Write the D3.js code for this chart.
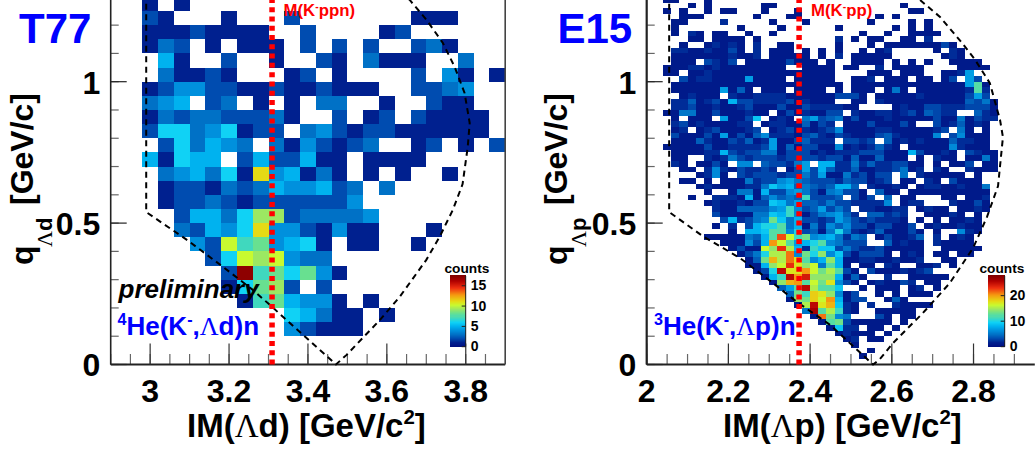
<!DOCTYPE html>
<html>
<head>
<meta charset="utf-8">
<title>T77 / E15 invariant mass vs momentum transfer</title>
<script src="https://cdn.jsdelivr.net/npm/d3@7"></script>
<style>
  html, body { margin: 0; background: #fff; }
  svg { display: block; }
  text { font-family: "Liberation Sans", Arial, sans-serif; font-weight: bold; }
</style>
</head>
<body>
<div id="chart"></div>
<script>
// counts per bin, top row first, one base-36 digit per bin, "." = empty bin
// T77: bins 0.04 x 0.05 GeV, first column starts at IM = 2.9, bottom row at q = 0
const t77Counts = [
  "..1.1....................",
  "..21...1...2.......111...",
  "..11121111..2....12......",
  "..132.1.111.2.2.2..231...",
  "...51..2..1..21.3111..3..",
  "...31121...12.1....2.41.1",
  "..124422112112111..2234..",
  "..345.23.1.1.33..1..211..",
  "..1323322231..2.12.21111.",
  "..266346122.342122111111.",
  "...263543.3142123..12.1.2",
  "..51655.2522511.1111.....",
  "...345361b45131.1.1..1...",
  "...1221323544523.3.......",
  "...1223212222224.........",
  "....2553699233334........",
  "....32546b4421411...1....",
  ".....42a784561.11..1.....",
  "......26a9a433...........",
  ".......2h786841..........",
  ".......16892.2...........",
  "........1785441.1........",
  "...........65311.1.......",
  "...........42111.........",
  "",
  ""
];

// E15: bins 0.02 x 0.02 GeV, first column starts at IM = 2.0, bottom row at q = 0
const e15Counts = [
  "..11...1.. .......... .......... ..........",
  ".....1.1.. ....11.... .......... .1........",
  "..1.1..1.1 1...1...1. .......... ..11......",
  "....111... ...1...11. ........1. 1.........",
  "...11....2 .....1...1 .......1.. ..1.1.....",
  "...1...... .1....1... ...1...... 1.1.1.....",
  "...1.21.11 ..1..1.... ......1..1 ..1111....",
  ".....11.11 11.1...... ...2.1.11. .11.2.....",
  "....1..121 21.2..11.. ...1...1.1 11111131..",
  "...2211211 31.2.111.1 .1.1..1.12 .....1.21.",
  "...1111111 2112.11111 .1.2.11111 ......121.",
  "...111.321 3.11111311 1.1..1111. 1.1.1..111 1",
  "..11122121 1111111..1 111.11..2. 1111....11 11",
  "..11.11211 1111111111 111....111 .111..1127",
  "....312211 1171111.11 111..112.1 11.11.13.7 3",
  "...1111111 1111111111 1111.11111 1111111117 c1",
  "...1111117 141.111.11 11.1.111.1 51.1111112 c2",
  "....12111. 2112222111 1113331.11 1112111113 73",
  "...2241231 8332222312 111..11.21 1111111114 351",
  "...2231121 1231113113 222211.... 1211332223 331",
  "..11551131 11211.1312 1133.21122 12314322.. 421",
  "...1.111.7 1139.121.5 7345131112 1111131151 322",
  "...2312111 122.122114 132.111311 131..31241 21",
  "...12.1231 1123.12312 1236111122 1111123.51 .1",
  "...3111317 1314622213 4213211134 211116.361 11",
  "...1114211 3241271134 222.3323.4 1212111422 11",
  "..11111311 2222371413 3116121242 1.11111621 11",
  "...1111228 3233551333 1212223331 11831121.3 211",
  "...11..212 5323332333 3233141141 11.1.211.1 151",
  "...21.1131 .66.433257 .882252422 3311.1.113 .11",
  "....11.262 132232.137 3842241122 3512.21..2 111",
  "......1261 .323332335 3711523133 .5.211111. 1",
  "....11.1.1 1152336754 3332433123 .11.21.311 1",
  "......1211 1122597845 434884.211 21.1221121 15",
  ".......1.. 1551833675 3156331.41 1.11111111 11",
  ".....1..22 218146454b 3334.313.4 .11...11.1 12",
  ".......121 1213398574 4353322226 .122...211 31",
  "........21 1444467b63 47353.2211 22.1211.11 21",
  "........31 1115598b61 356742.442 32..11121. 1",
  ".........3 82356d9583 3237532322 21.1.1.112 1",
  "........1. 2.38aac581 5264633133 113.121121 1",
  ".......... 1.889cc6a3 415a521241 1131.1..62 1",
  ".......111 11548cmgbd 6785254.13 1124.2.121",
  ".........1 11638kgc78 ac65333..4 1211.21111",
  ".......... 1311genf82 b993532231 1111..1111 1",
  ".......... .135affl6d ae69313331 .121.11.11",
  ".......... ..14djflhc 68e8112211 2112..11..",
  ".......... ..118egnhe g5c81.11.2 1..112.1..",
  ".......... ...13aphhk gdfc31.311 12123.....",
  ".......... ....18bpko eee8141..2 ..11111...",
  ".......... .....1ejkc gdh631.121 132.11....",
  ".......... ......47cp fcc9..1.11 1.12.1....",
  ".......... .......4db ihe613..1. 1.111.....",
  ".......... .......1ed igk8133..1 41........",
  ".......... ........1f phj921.2.. 21111.....",
  ".......... .........5 qcfb21..11 111.......",
  ".......... .......... 1ld65...31 .11.......",
  ".......... .......... .1cd311111 .1........",
  ".......... .......... ..1922.11. 1.........",
  ".......... .......... ...12111.1",
  ".......... .......... ....12.11.",
  ".......... .......... .....1....",
  ".......... .......... .......1..",
  ".......... .......... ......1...",
  ""
];

// kinematic limit, [IM, q] in GeV
const t77Contour = [[2.99,1.35],[2.99,0.539],[3.094,0.44],[3.185,0.345],[3.261,0.263],[3.304,0.21],[3.471,0],
  [3.498,0.034],[3.582,0.157],[3.633,0.24],[3.7,0.37],[3.734,0.452],[3.767,0.546],[3.792,0.638],[3.805,0.769],
  [3.81,0.854],[3.797,0.96],[3.772,1.052],[3.742,1.137],[3.701,1.218],[3.658,1.289],[3.62,1.34]];
const e15Contour = [[2.055,1.35],[2.055,0.539],[2.139,0.452],[2.228,0.377],[2.309,0.288],[2.367,0.222],[2.449,0.14],[2.554,0],
  [2.569,0.016],[2.603,0.076],[2.676,0.182],[2.742,0.288],[2.799,0.412],[2.833,0.522],[2.86,0.631],[2.872,0.804],
  [2.865,0.864],[2.84,0.995],[2.804,1.077],[2.772,1.137],[2.718,1.229],[2.669,1.289],[2.632,1.33]];

const t77XTicks = [3, 3.2, 3.4, 3.6, 3.8];
const e15XTicks = [2, 2.2, 2.4, 2.6, 2.8];
const t77XMinor = d3.range(0, 20).map(i => 2.9 + i * 0.05);
const e15XMinor = d3.range(0, 19).map(i => 2 + i * 0.05);
const yTicks = [0, 0.5, 1];
const yMinor = d3.range(0, 13).map(i => i * 0.1);
const t77ZTicks = [0, 5, 10, 15];
const e15ZTicks = [0, 10, 20];
const t77Threshold = 3.309; // M(K-ppn)
const e15Threshold = 2.373; // M(K-pp)

// ROOT style rainbow palette, position = fraction of z max
const palettePos = [0, .057, .115, .17, .23, .29, .345, .40, .46, .52, .575, .63, .72, .82, .92, 1];
const paletteCol = ["#000f80", "#00208f", "#004cb0", "#0070c5", "#0090dd", "#00b4f0", "#10d2f5", "#3ed8c0",
  "#68e090", "#9ee860", "#c8fa30", "#e5dc15", "#f59a10", "#f03010", "#b00000", "#800000"];
const palette = d3.scaleLinear().domain(palettePos).range(paletteCol).clamp(true);

const svg = d3.select("#chart").append("svg").attr("width", 1036).attr("height", 455);

// text made of runs, run = [string, kind]; kind: "sup", "lam" or nothing
function richText(sel, runs, size) {
  let shift = 0;
  runs.forEach(([str, kind]) => {
    const t = sel.append("tspan").text(str);
    const up = kind === "sup" ? -size * 0.38 : 0;
    t.attr("dy", up - shift);
    shift = up;
    if (kind === "sup") t.style("font-size", (size * 0.62) + "px");
    if (kind === "lam") t.style("font-family", "'Liberation Serif'").style("font-weight", "normal");
  });
}

function drawPanel(cfg) {
  const x = d3.scaleLinear().domain(cfg.xDomain).range(cfg.xRange);
  const y = d3.scaleLinear().domain([0, 1.2889]).range([364.5, 0]);
  const g = svg.append("g");
  const zMax = cfg.zMax;
  const plain = d => String(d);

  // bins
  const bins = [];
  const nRows = cfg.counts.length;
  cfg.counts.forEach((row, r) => {
    Array.from(row.replace(/ /g, "")).forEach((c, i) => {
      if (c !== ".") bins.push({i: i, k: nRows - 1 - r, n: parseInt(c, 36)});
    });
  });
  g.selectAll(".bin").data(bins).join("rect")
    .attr("class", "bin")
    .attr("x", d => x(cfg.xDomain[0] + d.i * cfg.binX))
    .attr("width", d => x(cfg.xDomain[0] + cfg.binX) - x(cfg.xDomain[0]))
    .attr("y", d => y((d.k + 1) * cfg.binY))
    .attr("height", d => y(0) - y(cfg.binY))
    .attr("fill", d => palette(d.n / zMax))
    .attr("shape-rendering", "crispEdges");

  // minor ticks first, major axes on top
  g.append("g").attr("transform", "translate(0,364.5)")
    .call(d3.axisBottom(x).tickValues(cfg.xMinor).tickSize(-10.5).tickSizeOuter(0).tickFormat("").offset(0))
    .call(a => a.select(".domain").remove())
    .selectAll("line").attr("stroke", "#666").attr("stroke-width", 1.2);
  g.append("g").attr("transform", `translate(${cfg.xRange[0]},0)`)
    .call(d3.axisLeft(y).tickValues(yMinor).tickSize(-8).tickSizeOuter(0).tickFormat("").offset(0))
    .call(a => a.select(".domain").remove())
    .selectAll("line").attr("stroke", "#666").attr("stroke-width", 1.2);

  const xAxis = g.append("g").attr("transform", "translate(0,364.5)")
    .call(d3.axisBottom(x).tickValues(cfg.xTicks).tickFormat(plain).tickSize(-21).tickSizeOuter(0).tickPadding(14.5).offset(0));
  xAxis.select(".domain").attr("stroke", "#222").attr("stroke-width", 2);
  xAxis.selectAll("line").attr("stroke", "#333").attr("stroke-width", 1.2);
  xAxis.selectAll("text").style("font-size", "32px").attr("fill", "#000");

  const yAxis = g.append("g").attr("transform", `translate(${cfg.xRange[0]},0)`)
    .call(d3.axisLeft(y).tickValues(yTicks).tickFormat(plain).tickSize(-16).tickSizeOuter(0).tickPadding(10.5).offset(0));
  yAxis.select(".domain").attr("stroke", "#222").attr("stroke-width", cfg.frame ? 1.6 : 2.2);
  yAxis.selectAll("line").attr("stroke", "#222").attr("stroke-width", 1.2);
  yAxis.selectAll("text").style("font-size", "32px").attr("dy", "0.37em").attr("fill", "#000");

  if (cfg.frame) {
    g.append("line").attr("x1", x(cfg.xDomain[1])).attr("x2", x(cfg.xDomain[1]))
      .attr("y1", 0).attr("y2", 364.5).attr("stroke", "#444").attr("stroke-width", 1.6);
  }

  // kinematic limit
  g.append("path").datum(cfg.contour)
    .attr("d", d3.line().x(d => x(d[0])).y(d => y(d[1])))
    .attr("fill", "none").attr("stroke", "#000").attr("stroke-width", 2)
    .attr("stroke-dasharray", "6 4.5");

  // threshold mass
  g.append("line").attr("x1", x(cfg.threshold)).attr("x2", x(cfg.threshold))
    .attr("y1", 364.5).attr("y2", 0)
    .attr("stroke", "#ff0000").attr("stroke-width", 5.5).attr("stroke-dasharray", "5 4.27");
  richText(g.append("text").attr("x", cfg.massX).attr("y", 16).attr("fill", "#ff0000").style("font-size", "16.8px"),
    cfg.massLabel, 16.8);

  // panel name
  g.append("text").attr("x", cfg.nameX).attr("y", 43).attr("fill", "#0000ff").style("font-size", "42px").text(cfg.name);

  // reaction
  richText(g.append("text").attr("x", cfg.reactionX).attr("y", 335).attr("fill", "#0000ff").style("font-size", "26px"),
    cfg.reaction, 26);

  // axis titles
  richText(g.append("text").attr("x", cfg.xTitleX).attr("y", 436.5).attr("fill", "#000").style("font-size", "33px"),
    cfg.xTitle, 33);
  g.append("text").attr("transform", `translate(${cfg.yTitleX},265) rotate(-90)`).style("font-size", "32px").text("q");
  richText(g.append("text").attr("transform", `translate(${cfg.yTitleX + 18.5},247) rotate(-90)`).style("font-size", "22px"),
    cfg.ySub, 22);
  g.append("text").attr("transform", `translate(${cfg.yTitleX},205) rotate(-90)`).style("font-size", "32px").text("[GeV/c]");

  // colour bar
  const z = d3.scaleLinear().domain([0, zMax]).range([346.7, 276]);
  const steps = d3.range(0, 71).map(i => i / 70 * zMax);
  const bar = g.append("g");
  bar.selectAll("rect").data(steps).join("rect")
    .attr("x", cfg.barX).attr("width", cfg.barW)
    .attr("y", d => z(d) - 1.5).attr("height", 1.6)
    .attr("fill", d => palette(d / zMax))
    .attr("shape-rendering", "crispEdges");
  const zAxis = g.append("g").attr("transform", `translate(${cfg.barX + cfg.barW},0)`)
    .call(d3.axisRight(z).tickValues(cfg.zTicks).tickFormat(plain).tickSize(-4).tickSizeOuter(0).tickPadding(5).offset(0));
  zAxis.select(".domain").attr("stroke", "#222").attr("stroke-width", 1);
  zAxis.selectAll("line").attr("stroke", "#222");
  zAxis.selectAll("text").style("font-size", "14px").attr("fill", "#000");
  g.append("text").attr("x", cfg.countsX).attr("y", 272.7).style("font-size", "13.7px").text("counts");
}

drawPanel({
  name: "T77", nameX: 19,
  counts: t77Counts, binX: 0.04, binY: 0.05, zMax: 17.4,
  xDomain: [2.9, 3.9], xRange: [110.7, 505.2], frame: true,
  xTicks: t77XTicks, xMinor: t77XMinor, contour: t77Contour,
  threshold: t77Threshold, massX: 283.5, massLabel: [["M(K"], ["-", "sup"], ["ppn)"]],
  reactionX: 117.5, reaction: [["4", "sup"], ["He(K"], ["-", "sup"], [","], ["\u039B", "lam"], ["d)n"]],
  xTitleX: 187, xTitle: [["IM("], ["\u039B", "lam"], ["d) [GeV/c"], ["2", "sup"], ["]"]],
  yTitleX: 33, ySub: [["\u039B", "lam"], ["d"]],
  barX: 450, barW: 15.7, zTicks: t77ZTicks, countsX: 444.5
});

drawPanel({
  name: "E15", nameX: 557.5,
  counts: e15Counts, binX: 0.02, binY: 0.02, zMax: 27.7,
  xDomain: [2, 2.95], xRange: [646.7, 1034.8], frame: false,
  xTicks: e15XTicks, xMinor: e15XMinor, contour: e15Contour,
  threshold: e15Threshold, massX: 811, massLabel: [["M(K"], ["-", "sup"], ["pp)"]],
  reactionX: 654, reaction: [["3", "sup"], ["He(K"], ["-", "sup"], [","], ["\u039B", "lam"], ["p)n"]],
  xTitleX: 723, xTitle: [["IM("], ["\u039B", "lam"], ["p) [GeV/c"], ["2", "sup"], ["]"]],
  yTitleX: 567, ySub: [["\u039B", "lam"], ["p"]],
  barX: 988, barW: 16.7, zTicks: e15ZTicks, countsX: 979.5
});

// black note sits over the left panel only
svg.append("text").attr("x", 118.5).attr("y", 298).style("font-size", "26px").style("font-style", "italic").text("preliminary");
</script>
</body>
</html>
